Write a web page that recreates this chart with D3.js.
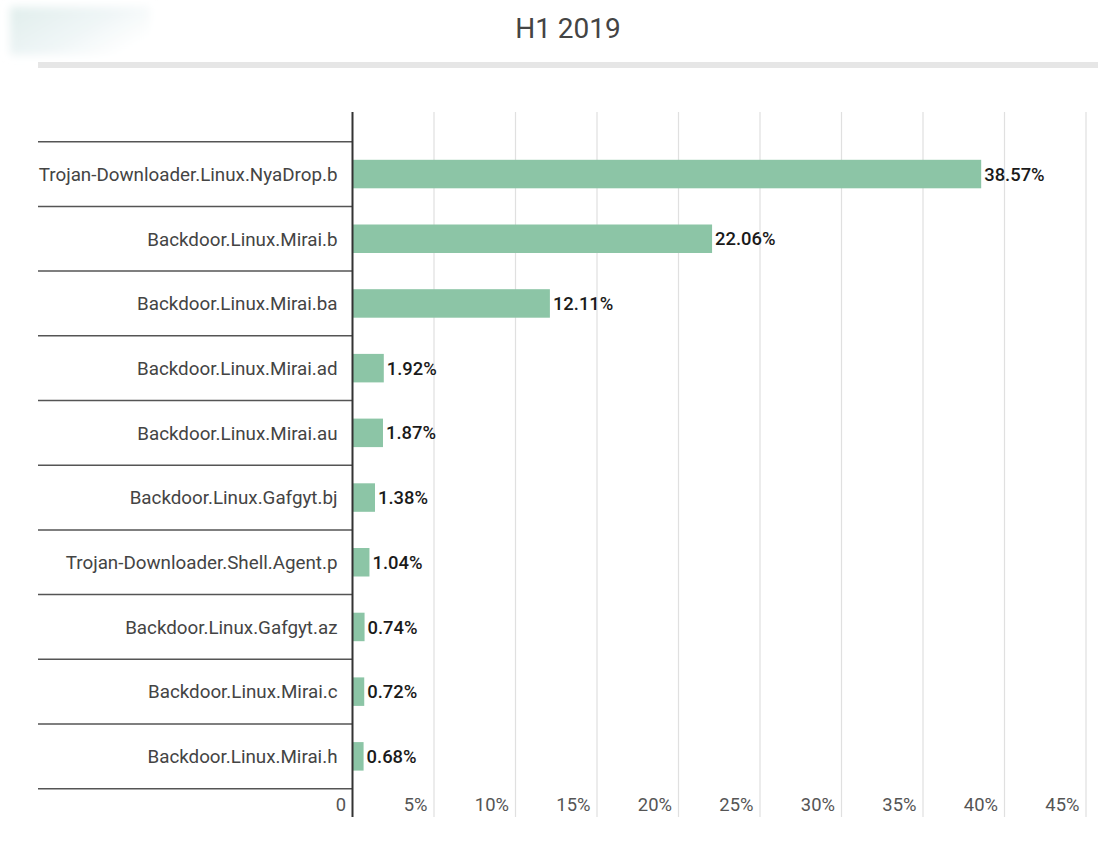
<!DOCTYPE html>
<html>
<head>
<meta charset="utf-8">
<script src="https://cdn.jsdelivr.net/npm/d3@7"></script>
<style>
  html, body { margin: 0; padding: 0; background: #fff; }
  svg { display: block; font-family: Roboto, "Noto Sans", sans-serif; }
</style>
</head>
<body>
<svg id="chart" width="1098" height="856"></svg>
<script>
// Malware families, H1 2019
const categories = [
  "Trojan-Downloader.Linux.NyaDrop.b",
  "Backdoor.Linux.Mirai.b",
  "Backdoor.Linux.Mirai.ba",
  "Backdoor.Linux.Mirai.ad",
  "Backdoor.Linux.Mirai.au",
  "Backdoor.Linux.Gafgyt.bj",
  "Trojan-Downloader.Shell.Agent.p",
  "Backdoor.Linux.Gafgyt.az",
  "Backdoor.Linux.Mirai.c",
  "Backdoor.Linux.Mirai.h"
];
const shares = [38.57, 22.06, 12.11, 1.92, 1.87, 1.38, 1.04, 0.74, 0.72, 0.68];
const tickValues = [0, 5, 10, 15, 20, 25, 30, 35, 40, 45];
const titleText = "H1 2019";

const svg = d3.select("#chart");

// soft smudge in the top-left corner
const defs = svg.append("defs");
defs.append("filter").attr("id", "soft")
  .attr("x", "-30%").attr("y", "-30%").attr("width", "160%").attr("height", "160%")
  .append("feGaussianBlur").attr("stdDeviation", 4);
const grad = defs.append("linearGradient").attr("id", "smudge")
  .attr("x1", "0").attr("x2", "1").attr("y1", "0").attr("y2", "0.6");
grad.append("stop").attr("offset", "0").attr("stop-color", "#e0eeec");
grad.append("stop").attr("offset", "0.55").attr("stop-color", "#eef5f6");
grad.append("stop").attr("offset", "1").attr("stop-color", "#ffffff");
svg.append("rect")
  .attr("x", 10).attr("y", 7).attr("width", 140).attr("height", 48)
  .attr("fill", "url(#smudge)").attr("filter", "url(#soft)");

// title
svg.append("text")
  .attr("x", 568).attr("y", 38)
  .attr("text-anchor", "middle")
  .attr("font-size", 28)
  .attr("fill", "#444")
  .text(titleText);

// header rule
svg.append("rect")
  .attr("x", 38).attr("y", 62).attr("width", 1060).attr("height", 6)
  .attr("fill", "#e6e6e6");

const x = d3.scaleLinear().domain([0, 45]).range([352.5, 1086]);
const y = d3.scaleBand().domain(categories).range([141.7, 788.7]).paddingInner(0).paddingOuter(0);
const plotTop = 112, plotBottom = 817;
const barH = 28.5;

// vertical gridlines
svg.append("g")
  .selectAll("line")
  .data(tickValues.slice(1))
  .join("line")
  .attr("x1", d => x(d)).attr("x2", d => x(d))
  .attr("y1", plotTop).attr("y2", plotBottom)
  .attr("stroke", "#e0e0e0").attr("stroke-width", 1.2);

// row separators on the category side
const edges = categories.map(c => y(c)).concat([y(categories[categories.length - 1]) + y.step()]);
svg.append("g")
  .selectAll("line")
  .data(edges)
  .join("line")
  .attr("x1", 38).attr("x2", x(0))
  .attr("y1", d => d).attr("y2", d => d)
  .attr("stroke", "#555").attr("stroke-width", 1.5);

// bars
svg.append("g")
  .selectAll("rect")
  .data(shares)
  .join("rect")
  .attr("x", x(0))
  .attr("y", (d, i) => y(categories[i]) + (y.step() - barH) / 2)
  .attr("width", d => x(d) - x(0))
  .attr("height", barH)
  .attr("fill", "#8cc5a6");

// value labels
svg.append("g")
  .selectAll("text")
  .data(shares)
  .join("text")
  .attr("x", d => x(d) + 3)
  .attr("y", (d, i) => y(categories[i]) + y.step() / 2)
  .attr("dy", "0.36em")
  .attr("font-size", 18.4)
  .attr("font-weight", 500)
  .attr("fill", "#1a1a1a")
  .text(d => d.toFixed(2) + "%");

// category labels
svg.append("g")
  .selectAll("text")
  .data(categories)
  .join("text")
  .attr("x", x(0) - 15)
  .attr("y", d => y(d) + y.step() / 2)
  .attr("dy", "0.36em")
  .attr("text-anchor", "end")
  .attr("font-size", 18.8)
  .attr("fill", "#444")
  .text(d => d);

// x axis tick labels
const xAxis = d3.axisBottom(x)
  .tickValues(tickValues)
  .tickSize(0)
  .tickPadding(0)
  .tickFormat(d => d === 0 ? "0" : d + "%");
const ax = svg.append("g").call(xAxis);
ax.select(".domain").remove();
ax.selectAll("text")
  .attr("x", -7)
  .attr("y", 811)
  .attr("dy", 0)
  .attr("text-anchor", "end")
  .attr("font-size", 18.4)
  .attr("font-family", "Roboto, sans-serif")
  .attr("fill", "#555");

// value axis line
svg.append("line")
  .attr("x1", x(0)).attr("x2", x(0))
  .attr("y1", plotTop).attr("y2", plotBottom)
  .attr("stroke", "#333").attr("stroke-width", 2);
</script>
</body>
</html>
